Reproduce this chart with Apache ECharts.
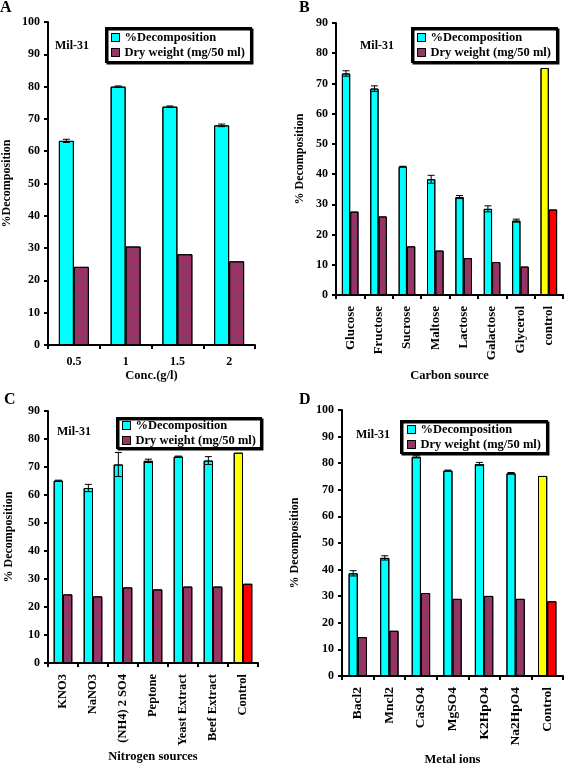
<!DOCTYPE html>
<html><head><meta charset="utf-8">
<script src="https://cdn.jsdelivr.net/npm/echarts@6/dist/echarts.min.js"></script>
<style>html,body{margin:0;padding:0;background:#fff}#c{width:566px;height:767px}</style>
</head><body><div id="c"></div>
<script>
const catA = ['0.5','1','1.5','2'];
const decompA = [63.2, 80.0, 73.8, 68.0];
const errA = [0.5, 0.2, 0.2, 0.4];
const dryA = [24.2, 30.5, 28.1, 25.9];

const catB = ['Glucose','Fructose','Sucrose','Maltose','Lactose','Galactose','Glycerol','control'];
const decompB = [73.3, 68.3, 42.5, 38.3, 32.4, 28.5, 24.6, 75.1];
const errB = [0.9, 0.9, 0.1, 1.3, 0.5, 1.0, 0.5, 0];
const dryB = [27.6, 26.0, 16.1, 14.7, 12.2, 10.9, 9.4, 28.3];

const catC = ['KNO3','NaNO3','(NH4) 2 SO4','Peptone','Yeast Extract','Beef Extract','Control'];
const decompC = [65.1, 62.5, 70.9, 72.2, 73.7, 72.3, 75.1];
const errC = [0.2, 1.3, 4.3, 0.6, 0.2, 1.4, 0];
const dryC = [24.5, 23.8, 27.0, 26.3, 27.3, 27.3, 28.3];

const catD = ['Bacl2','Mncl2','CaSO4','MgSO4','K2HpO4','Na2HpO4','Control'];
const decompD = [38.6, 44.4, 82.4, 77.2, 79.7, 76.2, 75.2];
const errD = [1.0, 0.8, 0.4, 0.2, 0.6, 0.3, 0];
const dryD = [14.6, 17.0, 31.2, 29.0, 30.1, 29.0, 28.1];

const yMax = [100, 90, 90, 100];
const xNames = ['Conc.(g/l)', 'Carbon source', 'Nitrogen sources', 'Metal ions'];
const yNames = ['%Decomposition', '% Decomposition', '% Decomposition', '% Decomposition'];
const panelLetters = ['A','B','C','D'];
const sName1 = '%Decomposition';
const sName2 = 'Dry weight (mg/50 ml)';

const FONT = '"Liberation Serif", "Times New Roman", serif';
const CYAN = '#00FFFF', MAROON = '#993366', YELLOW = '#FFFF00', RED = '#FF0000';
const NODECAL = {symbol: 'none'};
const DOTS = {symbol: 'rect', symbolSize: 1, dashArrayX: [1, 5], dashArrayY: [1, 6], color: 'rgba(40,110,100,0.85)'};

const panels = [
  {cats: catA, dec: decompA, err: errA, dry: dryA, ctrl: false,
   grid: {left: 41, top: 22, width: 214, height: 323}, bw: 15, rot: 0, lab: 12, xGap: 21, yGap: 35,
   legend: {left: 106, top: 28}, lpad: [3, 6, 3, 5], mil: [55, 40], letter: [0, 0]},
  {cats: catB, dec: decompB, err: errB, dry: dryB, ctrl: true,
   grid: {left: 336, top: 23, width: 227, height: 272}, bw: 8.3, rot: 90, lab: 13, xGap: 74, yGap: 30,
   legend: {left: 412, top: 28}, lpad: [3, 6, 3, 5], mil: [360, 40], letter: [299, 0]},
  {cats: catC, dec: decompC, err: errC, dry: dryC, ctrl: true,
   grid: {left: 48, top: 411, width: 210, height: 252}, bw: 9.3, rot: 90, lab: 12.5, xGap: 87, yGap: 33,
   legend: {left: 117, top: 418}, lpad: [1, 5, 1, 5], mil: [57, 426], letter: [4, 392]},
  {cats: catD, dec: decompD, err: errD, dry: dryD, ctrl: true,
   grid: {left: 342, top: 410, width: 221, height: 278}, bw: 9.2, rot: 90, lab: 13.5, xGap: 77, yGap: 41,
   legend: {left: 401, top: 421}, lpad: [2, 6, 2, 6], mil: [356, 429], letter: [299, 392]}
];

const grids = [], xAxes = [], yAxes = [], series = [], legends = [], graphics = [];
const axisLine = {show: true, lineStyle: {color: '#000', width: 2}};
const axisTick = {show: true, length: 4, lineStyle: {color: '#000', width: 2}};

panels.forEach((p, i) => {
  grids.push(Object.assign({containLabel: false}, p.grid));
  xAxes.push({
    type: 'category', gridIndex: i, data: p.cats,
    axisLine, axisTick: Object.assign({alignWithLabel: false}, axisTick),
    axisLabel: {rotate: p.rot, interval: 0, color: '#000', fontFamily: FONT, fontWeight: 'bold', fontSize: p.lab, margin: p.rot ? 11 : 11},
    name: xNames[i], nameLocation: 'middle', nameGap: p.xGap,
    nameTextStyle: {color: '#000', fontFamily: FONT, fontWeight: 'bold', fontSize: 12.5}
  });
  yAxes.push({
    type: 'value', gridIndex: i, min: 0, max: yMax[i], interval: 10,
    axisLine, axisTick, splitLine: {show: false},
    axisLabel: {color: '#000', fontFamily: FONT, fontWeight: 'bold', fontSize: 12, margin: 8},
    name: yNames[i], nameLocation: 'middle', nameGap: p.yGap,
    nameTextStyle: {color: '#000', fontFamily: FONT, fontWeight: 'bold', fontSize: 12}
  });
  const last = p.cats.length - 1;
  const decData = p.dec.map((v, k) => (p.ctrl && k === last) ? {value: v, itemStyle: {color: YELLOW, decal: NODECAL}} : v);
  const dryData = p.dry.map((v, k) => (p.ctrl && k === last) ? {value: v, itemStyle: {color: RED, decal: NODECAL}} : v);
  series.push({
    type: 'bar', name: sName1, xAxisIndex: i, yAxisIndex: i, data: decData,
    barWidth: p.bw, barGap: '0%',
    itemStyle: {color: CYAN, borderColor: '#000', borderWidth: 1, decal: NODECAL}
  });
  series.push({
    type: 'bar', name: sName2, xAxisIndex: i, yAxisIndex: i, data: dryData,
    barWidth: p.bw, barGap: '0%',
    itemStyle: {color: MAROON, borderColor: '#000', borderWidth: 1, decal: DOTS}
  });
  const bw = p.bw;
  series.push({
    type: 'custom', xAxisIndex: i, yAxisIndex: i, z: 5,
    data: p.dec.map((v, k) => [k, v, p.err[k]]),
    renderItem: (params, api) => {
      const e = api.value(2);
      if (!e) return null;
      const c = api.value(0), v = api.value(1);
      const hi = api.coord([c, v + e]), lo = api.coord([c, v - e]);
      const x = hi[0] - bw / 2;
      const cap = 3.5;
      const st = {stroke: '#000', lineWidth: 1};
      return {type: 'group', children: [
        {type: 'line', shape: {x1: x, y1: hi[1], x2: x, y2: lo[1]}, style: st},
        {type: 'line', shape: {x1: x - cap, y1: hi[1], x2: x + cap, y2: hi[1]}, style: st},
        {type: 'line', shape: {x1: x - cap, y1: lo[1], x2: x + cap, y2: lo[1]}, style: st}
      ]};
    }
  });
  legends.push({
    data: [sName1, sName2], orient: 'vertical', left: p.legend.left, top: p.legend.top,
    icon: 'rect', itemWidth: 8, itemHeight: 8, itemGap: 2,
    padding: p.lpad, borderColor: '#000', borderWidth: 2, backgroundColor: '#fff',
    shadowColor: '#000', shadowOffsetX: 1.5, shadowOffsetY: 1.5,
    itemStyle: {borderColor: '#000', borderWidth: 1, decal: NODECAL},
    textStyle: {color: '#000', fontFamily: FONT, fontWeight: 'bold', fontSize: 12.5, lineHeight: 13},
    selectedMode: false
  });
  graphics.push({type: 'text', left: p.mil[0], top: p.mil[1],
    style: {text: 'Mil-31', font: 'bold 12px ' + FONT, fill: '#000'}});
  graphics.push({type: 'text', left: p.letter[0], top: p.letter[1],
    style: {text: panelLetters[i], font: 'bold 16px ' + FONT, fill: '#000'}});
});

const chart = echarts.init(document.getElementById('c'), null, {renderer: 'canvas'});
chart.setOption({
  animation: false, backgroundColor: '#fff',
  aria: {enabled: true, decal: {show: true}},
  grid: grids, xAxis: xAxes, yAxis: yAxes, series, legend: legends, graphic: graphics
});
</script></body></html>
